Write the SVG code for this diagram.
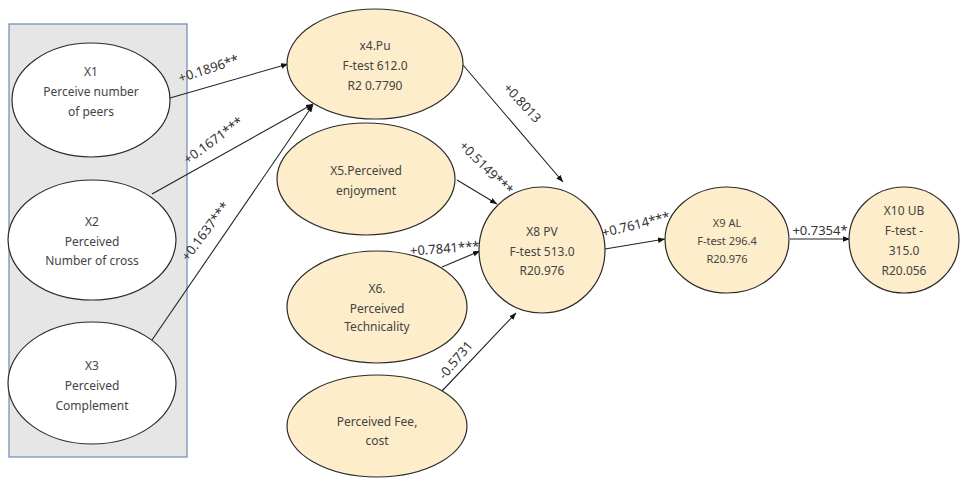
<svg xmlns="http://www.w3.org/2000/svg" width="962" height="480" viewBox="0 0 962 480">
<style>
.w{fill:#ffffff;stroke:#2b2b2b;stroke-width:1.2}
.t{fill:#fdedca;stroke:#2b2b2b;stroke-width:1.2}
.nt{font-family:"Noto Sans","DejaVu Sans",sans-serif;font-size:12px;fill:#444;text-anchor:middle}
.st{font-size:11px}
.lb{font-family:"Noto Sans","DejaVu Sans",sans-serif;font-size:13px;fill:#333;text-anchor:middle}
.c{stroke:#222;stroke-width:1.1;fill:none;marker-end:url(#ah)}
</style>
<defs>
<marker id="ah" viewBox="0 0 10 10" refX="10" refY="5" markerWidth="7" markerHeight="7" orient="auto" markerUnits="userSpaceOnUse">
<path d="M0,1 L10,5 L0,9 z" fill="#111"/>
</marker>
</defs>
<rect x="9" y="24" width="178" height="433" fill="#e6e6e6" stroke="#6d88b8" stroke-width="1.2"/>
<g id="connectors">
<line class="c" x1="170" y1="98" x2="288" y2="64"/>
<line class="c" x1="152" y1="194" x2="313" y2="104"/>
<line class="c" x1="152" y1="340" x2="313" y2="105"/>
<line class="c" x1="463" y1="65" x2="563" y2="182"/>
<line class="c" x1="457" y1="180" x2="497" y2="204"/>
<line class="c" x1="442" y1="267" x2="480" y2="251"/>
<line class="c" x1="442" y1="391" x2="516" y2="313"/>
<line class="c" x1="605" y1="249" x2="665" y2="239"/>
<line class="c" x1="790" y1="239" x2="850" y2="239"/>
<text class="lb" transform="translate(210,73) rotate(-18)">+0.1896**</text>
<text class="lb" transform="translate(216,144) rotate(-36)">+0.1671***</text>
<text class="lb" transform="translate(209,234) rotate(-53)">+0.1637***</text>
<text class="lb" transform="translate(519,106) rotate(47)">+0.8013</text>
<text class="lb" transform="translate(483,171) rotate(45)">+0.5149***</text>
<text class="lb" transform="translate(445,253) rotate(-4)">+0.7841***</text>
<text class="lb" transform="translate(459,363) rotate(-50)">-0.5731</text>
<text class="lb" transform="translate(637,229) rotate(-14)">+0.7614***</text>
<text class="lb" transform="translate(820,235)">+0.7354*</text>
</g>
<g id="x1">
<ellipse class="w" cx="91" cy="100" rx="79" ry="57"/>
<text class="nt" x="91" y="76">X1</text>
<text class="nt" x="91" y="96">Perceive number</text>
<text class="nt" x="91" y="116">of peers</text>
</g>
<g id="x2">
<ellipse class="w" cx="92" cy="240" rx="84" ry="60"/>
<text class="nt" x="92" y="226">X2</text>
<text class="nt" x="92" y="246">Perceived</text>
<text class="nt" x="92" y="265">Number of cross</text>
</g>
<g id="x3">
<ellipse class="w" cx="92" cy="383" rx="84" ry="61"/>
<text class="nt" x="92" y="370">X3</text>
<text class="nt" x="92" y="390">Perceived</text>
<text class="nt" x="92" y="410">Complement</text>
</g>
<g id="x4">
<ellipse class="t" cx="375" cy="64" rx="88" ry="55"/>
<text class="nt" x="375" y="50">x4.Pu</text>
<text class="nt" x="375" y="70">F-test 612.0</text>
<text class="nt" x="375" y="90">R2 0.7790</text>
</g>
<g id="x5">
<ellipse class="t" cx="366" cy="179" rx="89" ry="56"/>
<text class="nt" x="366" y="175">X5.Perceived</text>
<text class="nt" x="366" y="195">enjoyment</text>
</g>
<g id="x6">
<ellipse class="t" cx="377" cy="307" rx="90" ry="56"/>
<text class="nt" x="377" y="293">X6.</text>
<text class="nt" x="377" y="313">Perceived</text>
<text class="nt" x="377" y="331">Technicality</text>
</g>
<g id="fee">
<ellipse class="t" cx="377" cy="426" rx="90" ry="51"/>
<text class="nt" x="377" y="426">Perceived Fee,</text>
<text class="nt" x="377" y="445">cost</text>
</g>
<g id="x8">
<ellipse class="t" cx="542" cy="250" rx="63" ry="63"/>
<text class="nt" x="542" y="236">X8 PV</text>
<text class="nt" x="542" y="256">F-test 513.0</text>
<text class="nt" x="542" y="275">R20.976</text>
</g>
<g id="x9">
<ellipse class="t" cx="727" cy="240" rx="62" ry="53"/>
<text class="nt st" x="727" y="227">X9 AL</text>
<text class="nt st" x="727" y="245">F-test 296.4</text>
<text class="nt st" x="727" y="263">R20.976</text>
</g>
<g id="x10">
<ellipse class="t" cx="904" cy="240" rx="55" ry="53"/>
<text class="nt" x="904" y="215">X10 UB</text>
<text class="nt" x="904" y="235">F-test -</text>
<text class="nt" x="904" y="255">315.0</text>
<text class="nt" x="904" y="275">R20.056</text>
</g>
</svg>
